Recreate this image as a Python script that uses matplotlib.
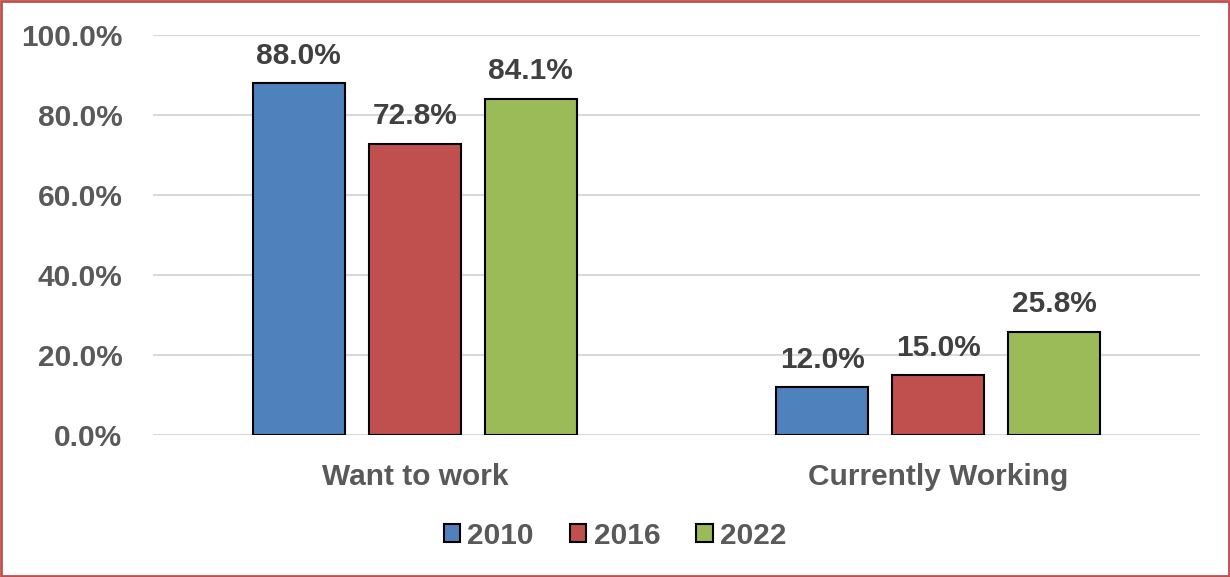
import numpy as np
import matplotlib.pyplot as plt
from matplotlib.patches import Rectangle

# survey results, percent of respondents
categories = ['Want to work', 'Currently Working']
years = ['2010', '2016', '2022']
values_2010 = [88.0, 12.0]
values_2016 = [72.8, 15.0]
values_2022 = [84.1, 25.8]
yticks = [0, 20, 40, 60, 80, 100]

series = [values_2010, values_2016, values_2022]
colors = ['#4F81BD', '#C0504D', '#9BBB59']

plt.rcParams['font.family'] = ['Liberation Sans', 'DejaVu Sans']
plt.rcParams['font.weight'] = 'bold'
fs = 21.5

fig = plt.figure(figsize=(12.3, 5.77), dpi=100)
ax = fig.add_axes([0.1244, 0.2461, 0.8512, 0.6932])

x = np.arange(len(categories))
width = 0.176
step = 0.2216
for i, (vals, col, yr) in enumerate(zip(series, colors, years)):
    pos = x + (i - 1) * step
    bars = ax.bar(pos, vals, width, color=col, edgecolor='black', linewidth=1.5,
                  label=yr, zorder=3)
    for b, v in zip(bars, vals):
        ax.annotate(f'{v:.1f}%', (b.get_x() + b.get_width() / 2, v),
                    xytext=(0, 14), textcoords='offset points',
                    ha='center', va='baseline', fontsize=fs, fontweight='bold',
                    color='#404040')

ax.set_xlim(-0.5, 1.5)
ax.set_ylim(0, 100)
ax.set_yticks(yticks)
ax.set_xticks(x)
ax.tick_params(axis='both', length=0, labelsize=fs, labelcolor='#595959')
ax.tick_params(axis='y', pad=22)
ax.tick_params(axis='x', pad=20)
ax.set_yticklabels([f'{t:.1f}%' for t in yticks], fontweight='bold')
ax.set_xticklabels(categories, fontweight='bold')
ax.grid(axis='y', color='#D9D9D9', linewidth=1.5, zorder=0)
for s in ax.spines.values():
    s.set_visible(False)

leg = ax.legend(loc='center', bbox_to_anchor=(0.5, (577 - 536) / 577),
                bbox_transform=fig.transFigure, ncol=3, frameon=False,
                prop={'size': fs, 'weight': 'bold'}, handlelength=0.55,
                handleheight=0.55, handletextpad=0.25, columnspacing=1.2)
for t in leg.get_texts():
    t.set_color('#595959')

# outer frame
fig.patches.append(Rectangle((0.001, 0.001), 0.998, 0.997, transform=fig.transFigure,
                             fill=False, edgecolor='#C0504D', linewidth=2))

fig.savefig('out.png', dpi=100)
